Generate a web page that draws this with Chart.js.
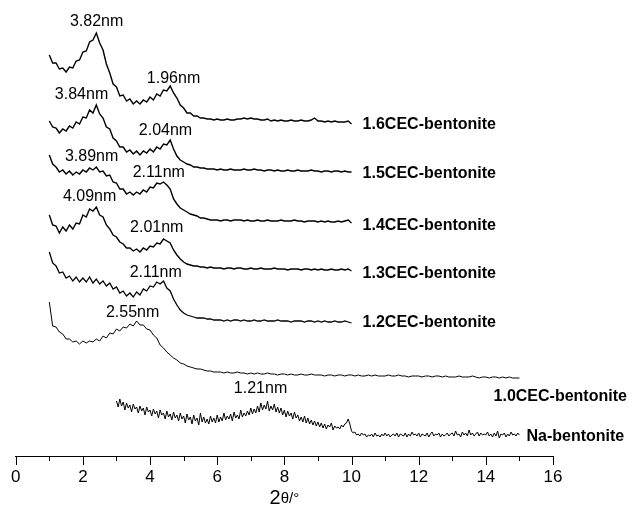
<!DOCTYPE html>
<html>
<head>
<meta charset="utf-8">
<script src="https://cdn.jsdelivr.net/npm/chart.js"></script>
<style>
  html, body { margin: 0; padding: 0; background: #fff; }
  #wrap { width: 633px; height: 518px; }
</style>
</head>
<body>
<div id="wrap"><canvas id="xrd" width="633" height="518"></canvas></div>
<script>
// 2theta sampling: CEC patterns start at 1.0 deg (0.1 step), Na-bentonite at 3.0 deg (0.05 step)
const seriesStart = [1.0, 1.0, 1.0, 1.0, 1.0, 1.0, 3.0];
const seriesStep = [0.1, 0.1, 0.1, 0.1, 0.1, 0.1, 0.05];
const seriesNames = [
  "1.6CEC-bentonite", "1.5CEC-bentonite", "1.4CEC-bentonite",
  "1.3CEC-bentonite", "1.2CEC-bentonite", "1.0CEC-bentonite", "Na-bentonite",
];
// vertical stacking offsets (a.u.)
const offsets = [335, 285, 235, 187, 135, 80, 20];

const cec16 = [
  66, 58, 58, 52, 53, 49, 54, 53, 60, 61,
  69, 70, 79, 81, 88, 78, 71, 57, 48, 37,
  34, 25, 26, 20, 22, 17, 20, 17, 21, 19,
  24, 21, 27, 25, 31, 30, 35, 28, 23, 16,
  13, 8, 8, 5, 5, 3, 3, 2, 2, 1,
  2, 1, 1, 2, 1, 1, 2, 2, 3, 2,
  3, 2, 2, 1, 1, 2, 0, 1, 0, 1,
  0, 0, 1, 0, 0, 1, 0, 0, 1, 3,
  0, 0, -1, 0, -1, 0, -1, -1, -1, 0,
  -3,
];
const cec15 = [
  50, 44, 43, 38, 42, 40, 45, 43, 49, 47,
  54, 53, 61, 58, 66, 57, 53, 44, 42, 33,
  30, 24, 24, 19, 21, 17, 20, 16, 20, 18,
  22, 19, 24, 22, 27, 26, 31, 22, 15, 11,
  9, 7, 6, 4, 4, 3, 3, 2, 2, 2,
  1, 2, 1, 1, 2, 1, 1, 1, 2, 1,
  1, 2, 1, 1, 0, 1, 1, 0, 1, 0,
  0, 1, 0, 0, 1, 0, 0, 0, 1, 0,
  0, -1, 0, 0, -1, 0, 0, -1, 0, -1,
  -1,
];
const cec14 = [
  66, 57, 54, 49, 51, 47, 50, 46, 49, 47,
  51, 49, 53, 51, 54, 49, 50, 45, 46, 39,
  38, 32, 32, 27, 29, 26, 29, 27, 31, 29,
  34, 33, 38, 37, 39, 36, 32, 22, 17, 13,
  11, 9, 7, 6, 5, 3, 3, 2, 1, 1,
  1, 0, 1, 1, 0, 1, 1, 1, 0, 1,
  0, 0, 1, 0, 0, 1, 0, 0, 0, 1,
  0, 0, 0, 1, 0, 0, -1, 0, 0, 0,
  -1, 0, -1, 0, -1, -1, 0, -1, 0, 1,
  -2,
];
const cec13 = [
  54, 44, 43, 36, 42, 38, 44, 40, 46, 45,
  54, 52, 60, 58, 62, 54, 52, 44, 40, 34,
  32, 27, 25, 21, 21, 18, 20, 17, 21, 19,
  23, 22, 26, 25, 30, 28, 26, 19, 14, 10,
  7, 5, 4, 3, 3, 2, 2, 1, 2, 1,
  1, 1, 0, 1, 1, 0, 1, 1, 0, 0,
  1, 0, 0, 1, 0, 0, 0, 1, 0, 0,
  0, -1, 0, 0, 0, -1, 0, 0, -1, 0,
  -1, 0, -1, -1, 0, -1, -1, 0, -1, 0,
  -2,
];
const cec12 = [
  69, 58, 55, 48, 49, 43, 45, 40, 44, 39,
  43, 39, 44, 38, 42, 37, 40, 35, 38, 32,
  34, 28, 30, 25, 28, 24, 29, 26, 32, 30,
  35, 34, 39, 37, 40, 33, 30, 22, 16, 11,
  8, 6, 5, 4, 3, 3, 3, 2, 2, 1,
  1, 1, 0, 1, 0, 1, 1, 0, 1, 0,
  0, 1, 0, 0, 1, 0, 0, 0, 1, 0,
  0, 0, -1, 0, 0, 0, -1, 0, 0, -1,
  0, -1, 0, -1, -1, 0, -1, -1, 0, -1,
  -2,
];
const cec10 = [
  74, 50, 49, 44, 42, 37, 37, 34, 35, 32,
  35, 33, 35, 34, 37, 35, 40, 38, 43, 42,
  47, 45, 49, 48, 52, 50, 55, 51, 51, 47,
  46, 41, 38, 31, 28, 24, 21, 18, 16, 13,
  12, 10, 9, 8, 7, 7, 6, 5, 5, 4,
  4, 4, 3, 4, 3, 3, 4, 3, 3, 2,
  3, 2, 3, 2, 2, 3, 2, 2, 1, 2,
  2, 1, 2, 1, 1, 2, 1, 1, 2, 1,
  1, 1, 0, 1, 1, 0, 1, 1, 0, 1,
  1, 0, 1, 0, 0, 1, 0, 1, 0, 0,
  0, 1, 0, 0, 1, 0, 0, -1, 0, 0,
  0, -1, 0, 0, -1, 0, 0, -1, 0, -1,
  -1, -1, 0, -1, -1, -1, 0, -1, -2, -1,
  -1, -2, -1, -1, -2, -1, -2, -1, -2, -2,
  -2,
];
const naBent = [
  35, 29, 37, 30, 34, 26, 33, 28, 31, 24, 32, 27, 29, 23, 30, 25, 28, 21, 29, 24,
  26, 20, 27, 22, 25, 18, 26, 21, 23, 17, 25, 19, 22, 16, 24, 18, 21, 15, 23, 17,
  20, 13, 22, 16, 19, 12, 21, 15, 18, 11, 23, 14, 19, 13, 17, 12, 20, 14, 18, 13,
  21, 14, 19, 15, 23, 16, 20, 17, 22, 15, 24, 18, 21, 17, 26, 19, 23, 20, 25, 21,
  28, 22, 27, 23, 30, 24, 33, 26, 31, 27, 35, 25, 30, 26, 32, 24, 29, 23, 28, 21,
  26, 19, 25, 20, 23, 17, 24, 18, 21, 15, 19, 14, 20, 13, 18, 12, 16, 11, 15, 10,
  14, 9, 13, 8, 12, 7, 11, 9, 13, 6, 10, 8, 9, 7, 11, 9, 12, 13, 17, 12,
  5, 3, 4, 1, 2, 0, 3, 1, 2, -1, 1, 0, 2, -1, 3, 0, 1, -1, 2, 0,
  3, 0, 2, -1, 1, 2, 0, 3, -1, 2, 1, 0, 3, -1, 2, 0, 4, 1, 2, 0,
  3, -1, 2, 1, 0, 3, -1, 2, 4, 0, 2, 1, 3, -1, 2, 0, 1, 3, 0, 2,
  3, 0, 5, 1, 2, -1, 4, 1, 3, 0, 6, 1, 3, 0, 2, 4, 0, 3, 1, 2,
  1, 4, 0, 2, -1, 3, 0, 5, -2, 2, 1, 3, -1, 2, 0, 4, 1, 2, 0, 3,
  1,
];
const seriesValues = [cec16, cec15, cec14, cec13, cec12, cec10, naBent];
const lineWidths = [1.4, 1.4, 1.4, 1.4, 1.3, 1, 1];

// d-spacing labels
const peakText = ["3.82nm", "1.96nm", "3.84nm", "2.04nm", "3.89nm", "2.11nm",
  "4.09nm", "2.01nm", "2.11nm", "2.55nm", "1.21nm"];
const peakAt = [[2.41, 434], [4.70, 377], [1.96, 361], [4.46, 325], [2.26, 299],
  [4.26, 283], [2.20, 259], [4.20, 228], [4.17, 183], [3.48, 143], [7.29, 67]];
const nameAt = [[10.33, 331], [10.33, 282], [10.33, 230], [10.33, 182],
  [10.33, 133], [14.23, 59], [15.21, 19]];

const xTicks = [0, 2, 4, 6, 8, 10, 12, 14, 16];
const FONT = "'Liberation Sans', Arial, sans-serif";

const datasets = seriesValues.map((vals, i) => ({
  label: seriesNames[i],
  data: vals.map((v, k) => ({
    x: Math.round((seriesStart[i] + k * seriesStep[i]) * 100) / 100,
    y: offsets[i] + v,
  })),
  borderColor: "#000",
  borderWidth: lineWidths[i],
  pointRadius: 0,
  fill: false,
  tension: 0,
  clip: false,
}));

const decor = {
  id: "decor",
  afterDraw(chart) {
    const { ctx, scales: { x, y } } = chart;
    ctx.save();
    ctx.strokeStyle = "#000";
    ctx.lineWidth = 1;
    // major + minor tick marks
    for (let v = xTicks[0]; v <= xTicks[xTicks.length - 1]; v++) {
      const px = Math.round(x.getPixelForValue(v)) + 0.5;
      const len = v % 2 === 0 ? 9 : 5;
      ctx.beginPath();
      ctx.moveTo(px, x.top);
      ctx.lineTo(px, x.top + len);
      ctx.stroke();
    }
    ctx.fillStyle = "#000";
    ctx.textBaseline = "middle";
    ctx.textAlign = "center";
    ctx.font = "16px " + FONT;
    peakText.forEach((t, i) => {
      ctx.fillText(t, x.getPixelForValue(peakAt[i][0]), y.getPixelForValue(peakAt[i][1]));
    });
    ctx.textAlign = "left";
    ctx.font = "bold 16px " + FONT;
    seriesNames.forEach((t, i) => {
      ctx.fillText(t, x.getPixelForValue(nameAt[i][0]), y.getPixelForValue(nameAt[i][1]));
    });
    // axis title 2θ/°
    const cx = (x.left + x.right) / 2;
    const ty = 498;
    ctx.font = "20px " + FONT;
    const w1 = ctx.measureText("2").width;
    ctx.font = "15px " + FONT;
    const w2 = ctx.measureText("θ/°").width;
    const sx = cx - (w1 + w2) / 2;
    ctx.font = "20px " + FONT;
    ctx.fillText("2", sx, ty);
    ctx.font = "15px " + FONT;
    ctx.fillText("θ/°", sx + w1, ty + 1);
    ctx.restore();
  },
};

new Chart(document.getElementById("xrd"), {
  type: "line",
  data: { datasets },
  options: {
    responsive: false,
    animation: false,
    devicePixelRatio: 1,
    layout: { padding: { left: 15, right: 80, top: 0, bottom: 0 } },
    plugins: { legend: { display: false }, tooltip: { enabled: false } },
    scales: {
      x: {
        type: "linear",
        min: 0,
        max: 16,
        afterFit(scale) { scale.height = 62; },
        afterBuildTicks(scale) { scale.ticks = xTicks.map((v) => ({ value: v })); },
        grid: { display: false, drawTicks: false },
        border: { display: true, color: "#000", width: 1 },
        ticks: { color: "#000", font: { size: 17, family: FONT }, padding: 11, maxRotation: 0, autoSkip: false },
      },
      y: { display: false, min: 0, max: 456 },
    },
  },
  plugins: [decor],
});
</script>
</body>
</html>
